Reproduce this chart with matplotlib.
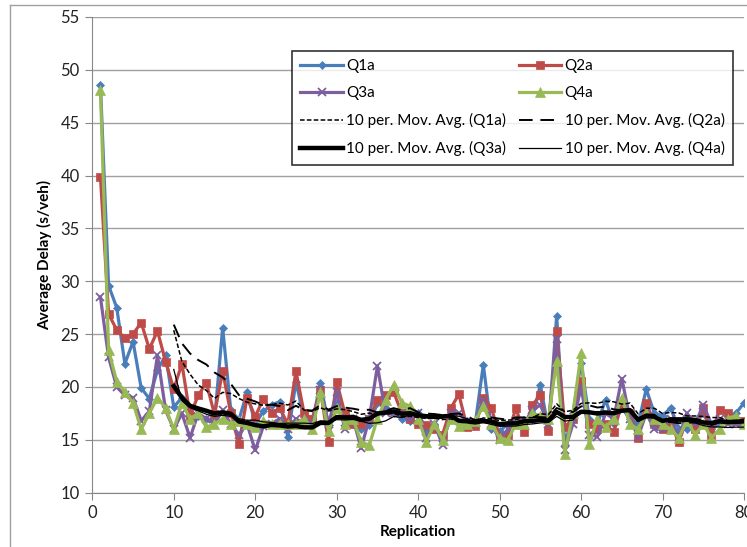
import numpy as np
import pandas as pd
import matplotlib
matplotlib.use('Agg')
import matplotlib.pyplot as plt
from matplotlib.lines import Line2D

plt.rcParams['font.family'] = ['Lato', 'DejaVu Sans']

replication = np.arange(1, 81)

# values (s/veh)
q1a = [48.6, 29.6, 27.5, 22.2, 24.3, 19.9, 18.9, 21.6, 23.0, 18.1,
       19.0, 17.6, 17.3, 17.0, 16.8, 25.6, 17.8, 16.9, 19.5, 16.5,
       17.7, 18.3, 18.6, 15.3, 20.5, 17.0, 16.6, 20.4, 16.4, 18.5,
       17.0, 16.5, 16.0, 16.4, 18.5, 18.0, 17.5, 17.0, 16.8, 17.5,
       16.0, 16.5, 15.0, 17.0, 16.5, 16.8, 16.5, 22.1, 16.0, 15.8,
       16.5, 17.0, 16.8, 17.0, 20.2, 16.0, 26.7, 14.5, 17.5, 22.3,
       17.0, 16.5, 18.8, 16.5, 18.0, 17.0, 16.5, 19.8, 17.5, 17.3,
       18.0, 16.0, 16.0, 16.5, 17.5, 16.0, 16.5, 17.0, 17.5, 18.5]
q2a = [39.9, 26.9, 25.4, 24.6, 25.0, 26.1, 23.6, 25.3, 22.4, 19.8,
       22.2, 17.3, 19.2, 20.4, 17.4, 21.5, 17.5, 14.6, 19.0, 17.2,
       18.9, 17.5, 18.0, 16.5, 21.5, 17.5, 17.0, 19.7, 14.8, 20.5,
       17.5, 16.5, 16.5, 17.0, 18.8, 19.2, 19.5, 17.5, 17.0, 16.5,
       16.4, 16.0, 15.5, 18.0, 19.3, 16.2, 16.3, 19.0, 18.0, 15.3,
       15.5, 18.0, 15.7, 18.3, 19.2, 15.8, 25.3, 16.2, 17.0, 20.6,
       16.5, 16.0, 16.5, 15.7, 18.5, 17.5, 15.2, 18.5, 16.5, 16.0,
       16.5, 14.8, 17.0, 16.0, 18.0, 15.5, 17.8, 17.5, 16.8, 16.8]
q3a = [28.5, 22.8, 20.0, 19.2, 19.0, 16.8, 17.7, 23.0, 17.8, 16.0,
       17.5, 15.2, 17.5, 17.0, 16.5, 17.8, 16.5, 15.5, 16.5, 14.0,
       16.3, 16.5, 17.0, 16.0, 17.0, 16.5, 16.5, 19.7, 16.5, 19.5,
       16.0, 17.0, 14.2, 17.0, 22.0, 17.5, 17.5, 17.5, 17.0, 17.5,
       15.2, 16.5, 14.5, 17.5, 17.5, 16.8, 16.5, 18.8, 16.5, 15.0,
       16.0, 16.5, 16.5, 17.8, 18.3, 16.5, 24.5, 14.0, 16.5, 20.0,
       15.5, 15.3, 17.5, 17.0, 20.8, 17.0, 15.3, 17.5, 16.0, 16.0,
       17.0, 15.3, 17.5, 16.5, 18.3, 16.5, 17.0, 16.5, 16.5, 16.5]
q4a = [48.1, 23.5, 20.5, 19.5, 18.5, 16.0, 17.5, 19.0, 18.0, 16.0,
       18.5, 17.0, 17.5, 16.2, 16.5, 17.0, 16.5, 16.8, 16.5, 16.2,
       16.8, 16.5, 16.5, 16.5, 16.5, 17.0, 16.0, 19.5, 15.8, 18.0,
       16.5, 17.0, 14.8, 14.5, 17.0, 18.8, 20.2, 18.5, 18.2, 17.0,
       14.8, 16.5, 15.0, 17.0, 16.3, 16.5, 16.8, 18.2, 16.5, 15.2,
       15.0, 16.5, 16.5, 17.5, 17.3, 17.0, 22.5, 13.7, 17.5, 23.2,
       14.6, 17.0, 16.2, 17.0, 19.0, 16.5, 16.0, 17.5, 17.0, 16.5,
       16.0, 15.2, 16.8, 15.5, 16.5, 15.2, 16.0, 17.0, 17.3, 16.5]

names = ['Q1a', 'Q2a', 'Q3a', 'Q4a']
colors = ['#4A7EBB', '#BE4B48', '#7D5FA0', '#98B954']
markers = ['D', 's', 'x', '^']
msizes = [4.5, 6, 6, 6.5]

fig = plt.figure(figsize=(7.47, 5.47), dpi=100)
ax = fig.add_axes([92.3 / 747, 1 - 492.7 / 547, 651.7 / 747, 475.7 / 547])

data = [q1a, q2a, q3a, q4a]
handles = []
for vals, name, c, m, ms in zip(data, names, colors, markers, msizes):
    h, = ax.plot(replication, vals, color=c, marker=m, markersize=ms, lw=2.3,
                 markeredgewidth=1.3 if m == 'x' else 0.5, markeredgecolor=c,
                 label=name, zorder=3)
    handles.append(h)

# 10 period moving averages
ma_styles = [dict(lw=1.1, ls=(0, (3, 1.5))),
             dict(lw=1.4, ls=(0, (7, 4))),
             dict(lw=3.2, ls='-'),
             dict(lw=0.9, ls='-')]
ma_handles = []
for vals, name, st in zip(data, names, ma_styles):
    ma = pd.Series(vals).rolling(10).mean()
    h, = ax.plot(replication, ma, color='black', label=f'10 per. Mov. Avg. ({name})',
                 zorder=4, **st)
    ma_handles.append(h)

ax.set_xlim(0, 80)
ax.set_ylim(10, 55)
ax.set_xticks(range(0, 81, 10))
ax.set_yticks(range(10, 56, 5))
ax.yaxis.grid(True, color='#A0A0A0', lw=1)
ax.set_axisbelow(True)
for s in ['top', 'right']:
    ax.spines[s].set_visible(False)
for s in ['left', 'bottom']:
    ax.spines[s].set_color('#878787')
ax.tick_params(direction='out', length=5, color='#878787', labelsize=12, labelcolor='#222222')
ax.tick_params(axis='y', pad=4)
ax.set_xlabel('Replication', fontsize=11, fontweight='bold', labelpad=3)
ax.set_ylabel('Average Delay (s/veh)', fontsize=11, fontweight='bold', labelpad=6)

order = [handles[0], handles[2], ma_handles[0], ma_handles[2],
         handles[1], handles[3], ma_handles[1], ma_handles[3]]
leg = ax.legend(handles=order, ncol=2, loc='upper left',
                bbox_to_anchor=(0.306, 0.693, 0.677, 0.236), mode='expand',
                fontsize=11, frameon=True, fancybox=False, handlelength=2.8,
                handletextpad=0.2, borderpad=0.55, borderaxespad=0,
                labelspacing=0.85, columnspacing=0.8)
leg.get_frame().set_edgecolor('black')
leg.get_frame().set_linewidth(1.2)

# outer chart border remnants
fig.add_artist(Line2D([10 / 747, 10 / 747], [0, 1 - 5 / 547], color='#A0A0A0', lw=1))
fig.add_artist(Line2D([10 / 747, 1], [1 - 5 / 547, 1 - 5 / 547], color='#A0A0A0', lw=1))

fig.savefig('out.png', dpi=100)
